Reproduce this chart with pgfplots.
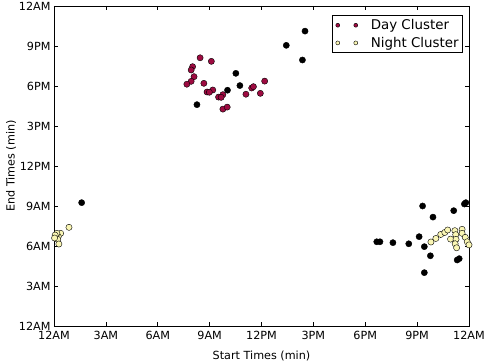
\documentclass[border=0pt]{standalone}
\usepackage{fontspec}
\setmainfont{DejaVu Sans}
\usepackage{pgfplots}
\pgfplotsset{compat=1.18}
\definecolor{dayc}{HTML}{9E0B41}
\definecolor{nightc}{HTML}{FAF6B4}
\begin{document}
\begin{tikzpicture}
\begin{axis}[
  scale only axis, width=415pt, height=320pt,
  at={(0pt,0pt)}, anchor=south west,
  xmin=0, xmax=1440, ymin=0, ymax=1440,
  xtick={0,180,...,1440}, ytick={0,180,...,1440},
  xticklabels={12AM,3AM,6AM,9AM,12PM,3PM,6PM,9PM,12AM},
  yticklabels={12AM,3AM,6AM,9AM,12PM,3PM,6PM,9PM,12AM},
  minor tick num=0,
  tick align=inside, major tick length=4pt,
  tick style={black, line width=0.6pt},
  axis line style={black, line width=0.9pt},
  ticklabel style={font=\fontsize{11.2}{13}\selectfont},
  xticklabel style={yshift=-1.5pt},
  /pgf/number format/assume math mode=true,
  xlabel={Start Times (min)}, ylabel={End Times (min)},
  every axis x label/.style={at={(axis description cs:0.5,-0.0928)}, anchor=center, font=\fontsize{11.2}{13}\selectfont},
  every axis y label/.style={at={(axis description cs:-0.1036,0.5)}, rotate=90, anchor=center, font=\fontsize{11.2}{13}\selectfont},
  legend style={at={(1,1)}, anchor=north east, xshift=-6pt, yshift=-9pt,
    font=\fontsize{13.4}{15}\selectfont, draw=black, line width=0.8pt,
    inner xsep=1pt, inner ysep=1pt, nodes={inner sep=3pt}, column sep=10pt},
  legend cell align=left,
  legend image code/.code={\path (-4pt,0pt); \draw[#1, mark size=2pt] plot coordinates {(0pt,0pt)}; \draw[#1, mark size=2pt] plot coordinates {(18pt,0pt)};},
]
\addplot[only marks, mark=*, mark size=3.1pt, mark options={fill=black, draw=black, line width=0.4pt}, forget plot] coordinates {
(96,555) (496,996) (602,1061) (631,1137) (645,1082) (806,1263) (871,1327) (862,1197)
(1120,379) (1131,379) (1176,375) (1231,370) (1267,402) (1279,540) (1315,490)
(1285,357) (1306,316) (1285,240) (1387,519) (1424,549) (1429,555) (1399,297) (1406,303)
};
\addplot[only marks, mark=*, mark size=3.1pt, mark options={fill=dayc, draw=black, line width=0.4pt}] coordinates {
(507,1207) (546,1191) (481,1167) (476,1152) (486,1122) (476,1101) (461,1088) (520,1092)
(531,1053) (551,1062) (539,1052) (571,1030) (586,1041) (580,1029) (586,976) (601,985)
(666,1043) (686,1071) (692,1077) (716,1047) (731,1102)
};
\addlegendentry{Day Cluster}
\addplot[only marks, mark=*, mark size=3.1pt, mark options={fill=nightc, draw=black, line width=0.4pt}] coordinates {
(52,444) (23,417) (15,402) (10,417) (13,390) (17,369) (4,409) (2,396)
(1308,378) (1325,394) (1342,412) (1356,421) (1366,432) (1376,391) (1391,429) (1394,411)
(1395,390) (1392,370) (1397,352) (1416,435) (1416,417) (1427,399) (1434,379) (1440,365)
};
\addlegendentry{Night Cluster}
\end{axis}
\pgfresetboundingbox
\path[use as bounding box] (-54pt,-38pt) rectangle (431pt,326pt);
\end{tikzpicture}
\end{document}
